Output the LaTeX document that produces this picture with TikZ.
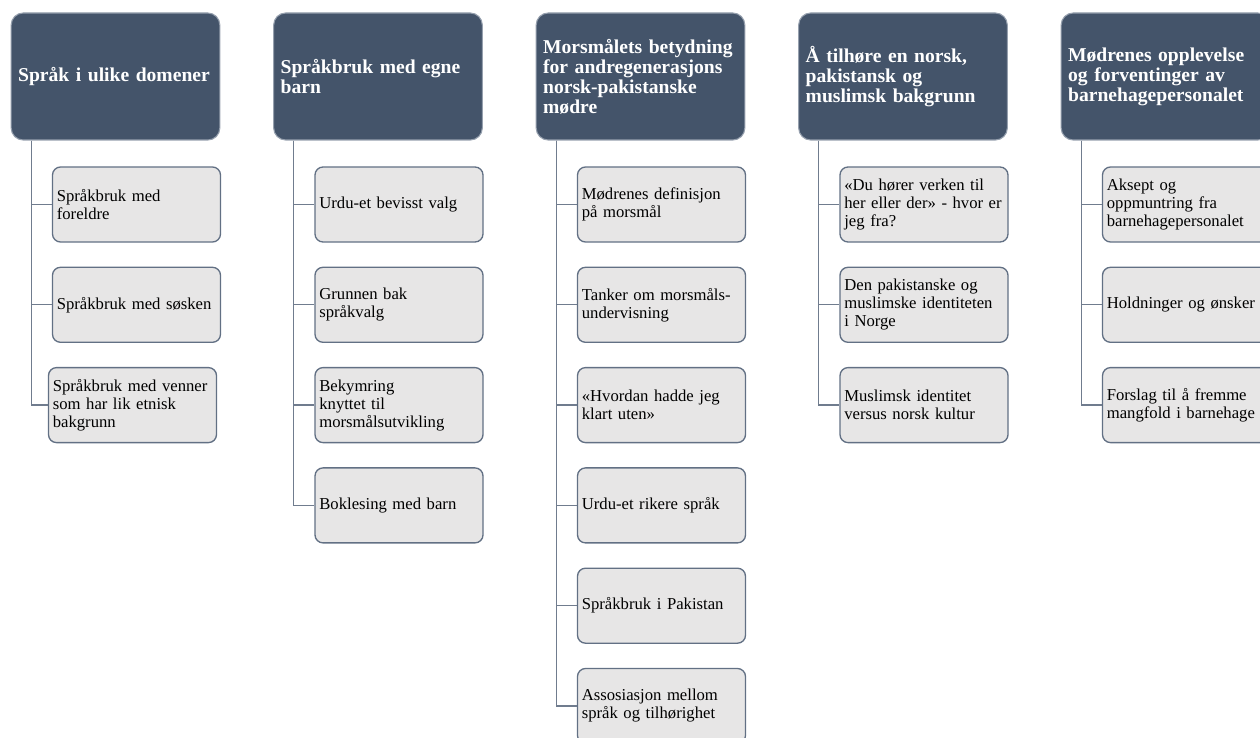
\documentclass[tikz,border=0pt]{standalone}
\usepackage{fontspec}
\setmainfont{Liberation Serif}
\usepackage{xcolor}
\usepackage{tikz}
\usetikzlibrary{trees}
\definecolor{hdrblue}{RGB}{68,84,106}
\definecolor{hdrline}{RGB}{150,160,174}
\definecolor{subfill}{RGB}{231,230,230}
\definecolor{subline}{RGB}{98,112,132}
\definecolor{linkcol}{RGB}{112,124,142}

\begin{document}
\begin{tikzpicture}[
            x = 0.75pt, y = -0.75pt,
            hdr/.style = {draw = hdrline, line width = 0.8pt, fill = hdrblue, rounded corners = 9pt,
                text = white, font = \fontsize{14.7}{15}\selectfont\bfseries, align = left,
                text width = 146pt, inner xsep = 5.25pt, minimum height = 95.25pt},
            sub/.style = {draw = subline, line width = 1pt, fill = subfill, rounded corners = 6pt,
                font = \fontsize{12.5}{13.5}\selectfont, align = left,
                text width = 119.5pt, inner xsep = 3.25pt, minimum height = 56.25pt},
            every child node/.style = {sub},
            grow via three points={one child at (21,128) and two children at (21,128) and (21,228.3)},
            edge from parent/.style = {draw = linkcol, line width = 1pt},
            edge from parent path={([xshift=15.4pt]\tikzparentnode.south west) |- (\tikzchildnode.west)}]
        \useasboundingbox (0,0) rectangle (1260,738);
        \clip (0,0) rectangle (1260,738);
        \node[hdr] (h1) at (115.5,76.5) {Språk i ulike domener}
                child {node (h1a) {Språkbruk med\\foreldre}}
                child {node (h1b) {Språkbruk med søsken}}
                child {node[xshift=-3pt] (h1c) {Språkbruk med venner\\som har lik etnisk\\bakgrunn}};
        \node[hdr] (h2) at (378,76.5) {Språkbruk med egne\\barn}
                child {node (h2a) {Urdu-et bevisst valg}}
                child {node (h2b) {Grunnen bak\\språkvalg}}
                child {node (h2c) {Bekymring\\knyttet til\\morsmålsutvikling}}
                child {node (h2d) {Boklesing med barn}};
        \node[hdr] (h3) at (640.5,76.5) {Morsmålets betydning\\for andregenerasjons\\norsk-pakistanske\\mødre}
                child {node (h3a) {Mødrenes definisjon\\på morsmål}}
                child {node (h3b) {Tanker om morsmåls-\\undervisning}}
                child {node (h3c) {«Hvordan hadde jeg\\klart uten»}}
                child {node (h3d) {Urdu-et rikere språk}}
                child {node (h3e) {Språkbruk i Pakistan}}
                child {node (h3f) {Assosiasjon mellom\\språk og tilhørighet}};
        \node[hdr] (h4) at (903,76.5) {Å tilhøre en norsk,\\pakistansk og\\muslimsk bakgrunn}
                child {node (h4a) {«Du hører verken til\\her eller der» - hvor er\\jeg fra?}}
                child {node (h4b) {Den pakistanske og\\muslimske identiteten\\i Norge}}
                child {node (h4c) {Muslimsk identitet\\versus norsk kultur}};
        \node[hdr] (h5) at (1165.5,76.5) {Mødrenes opplevelse\\og forventinger av\\barnehagepersonalet}
                child {node (h5a) {Aksept og\\oppmuntring fra\\barnehagepersonalet}}
                child {node (h5b) {Holdninger og ønsker}}
                child {node (h5c) {Forslag til å fremme\\mangfold i barnehage}};
        \end{tikzpicture}
\end{document}
